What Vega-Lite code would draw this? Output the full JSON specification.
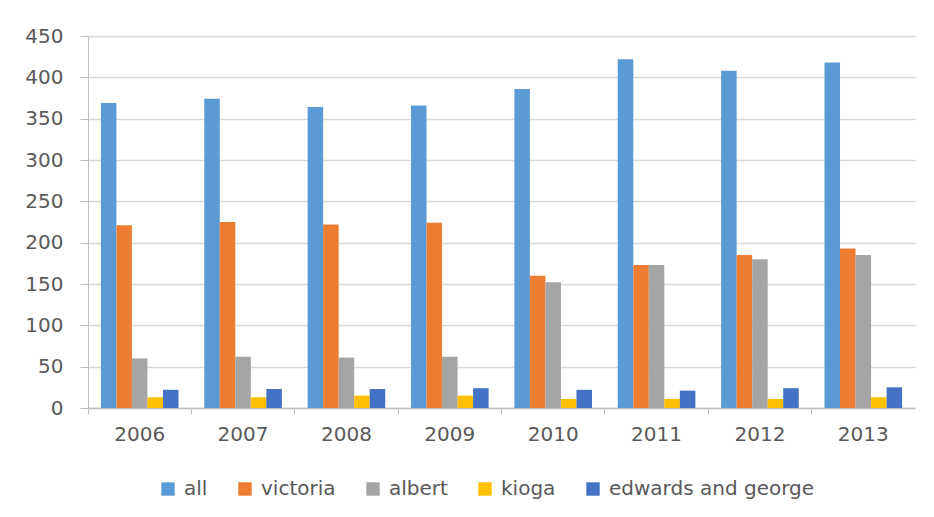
{
  "$schema": "https://vega.github.io/schema/vega-lite/v6.json",
  "width": 827,
  "height": 372,
  "autosize": {"type": "none"},
  "padding": {"left": 88, "top": 36, "right": 19, "bottom": 109},
  "background": "white",
  "data": {
    "values": [
      {"year": "2006", "series": "all", "value": 369},
      {"year": "2006", "series": "victoria", "value": 221},
      {"year": "2006", "series": "albert", "value": 60},
      {"year": "2006", "series": "kioga", "value": 13},
      {"year": "2006", "series": "edwards and george", "value": 22},
      {"year": "2007", "series": "all", "value": 374},
      {"year": "2007", "series": "victoria", "value": 225},
      {"year": "2007", "series": "albert", "value": 62},
      {"year": "2007", "series": "kioga", "value": 13},
      {"year": "2007", "series": "edwards and george", "value": 23},
      {"year": "2008", "series": "all", "value": 364},
      {"year": "2008", "series": "victoria", "value": 222},
      {"year": "2008", "series": "albert", "value": 61},
      {"year": "2008", "series": "kioga", "value": 15},
      {"year": "2008", "series": "edwards and george", "value": 23},
      {"year": "2009", "series": "all", "value": 366},
      {"year": "2009", "series": "victoria", "value": 224},
      {"year": "2009", "series": "albert", "value": 62},
      {"year": "2009", "series": "kioga", "value": 15},
      {"year": "2009", "series": "edwards and george", "value": 24},
      {"year": "2010", "series": "all", "value": 386},
      {"year": "2010", "series": "victoria", "value": 160},
      {"year": "2010", "series": "albert", "value": 152},
      {"year": "2010", "series": "kioga", "value": 11},
      {"year": "2010", "series": "edwards and george", "value": 22},
      {"year": "2011", "series": "all", "value": 422},
      {"year": "2011", "series": "victoria", "value": 173},
      {"year": "2011", "series": "albert", "value": 173},
      {"year": "2011", "series": "kioga", "value": 11},
      {"year": "2011", "series": "edwards and george", "value": 21},
      {"year": "2012", "series": "all", "value": 408},
      {"year": "2012", "series": "victoria", "value": 185},
      {"year": "2012", "series": "albert", "value": 180},
      {"year": "2012", "series": "kioga", "value": 11},
      {"year": "2012", "series": "edwards and george", "value": 24},
      {"year": "2013", "series": "all", "value": 418},
      {"year": "2013", "series": "victoria", "value": 193},
      {"year": "2013", "series": "albert", "value": 185},
      {"year": "2013", "series": "kioga", "value": 13},
      {"year": "2013", "series": "edwards and george", "value": 25}
    ]
  },
  "mark": {"type": "bar"},
  "encoding": {
    "x": {
      "field": "year",
      "type": "nominal",
      "scale": {"paddingInner": 0, "paddingOuter": 0},
      "axis": {
        "title": null,
        "labelAngle": 0,
        "bandPosition": 0,
        "labelFont": "DejaVu Sans",
        "labelFontSize": 20,
        "labelColor": "#595959",
        "labelPadding": 10,
        "tickColor": "#BFBFBF",
        "tickSize": 6,
        "domainColor": "#BFBFBF",
        "domainWidth": 1.5,
        "grid": false
      }
    },
    "xOffset": {
      "field": "series",
      "type": "nominal",
      "sort": ["all", "victoria", "albert", "kioga", "edwards and george"],
      "scale": {"paddingInner": 0, "paddingOuter": 0.83}
    },
    "y": {
      "field": "value",
      "type": "quantitative",
      "scale": {"domain": [0, 450], "nice": false},
      "axis": {
        "title": null,
        "values": [0, 50, 100, 150, 200, 250, 300, 350, 400, 450],
        "labelFont": "DejaVu Sans",
        "labelFontSize": 20,
        "labelColor": "#595959",
        "labelPadding": 17,
        "tickColor": "#BFBFBF",
        "tickSize": 8,
        "domainColor": "#BFBFBF",
        "domainWidth": 1,
        "gridColor": "#D9D9D9",
        "gridWidth": 1.5
      }
    },
    "color": {
      "field": "series",
      "type": "nominal",
      "sort": ["all", "victoria", "albert", "kioga", "edwards and george"],
      "scale": {
        "domain": ["all", "victoria", "albert", "kioga", "edwards and george"],
        "range": ["#5B9BD5", "#ED7D31", "#A5A5A5", "#FFC000", "#4472C4"]
      },
      "legend": {
        "title": null,
        "orient": "none",
        "legendX": 70,
        "legendY": 443,
        "direction": "horizontal",
        "symbolType": "square",
        "symbolSize": 180,
        "symbolStrokeWidth": 0,
        "labelOffset": 6,
        "labelLimit": 400,
        "labelFont": "DejaVu Sans",
        "labelFontSize": 20,
        "labelColor": "#595959",
        "columnPadding": 27
      }
    }
  },
  "config": {
    "view": {"stroke": null}
  }
}
